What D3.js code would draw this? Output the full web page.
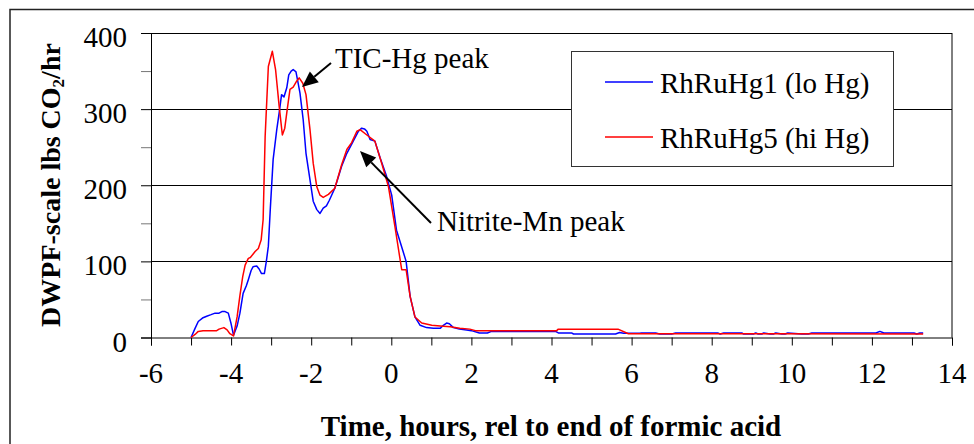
<!DOCTYPE html>
<html>
<head>
<meta charset="utf-8">
<script src="https://cdn.jsdelivr.net/npm/d3@7"></script>
<style>
  body { margin: 0; background: #fff; }
  text { font-family: "Liberation Serif", "Times New Roman", serif; fill: #000; }
</style>
</head>
<body>
<svg id="chart" width="974" height="444"></svg>
<script>
'use strict'

// RhRuHg1 (lo Hg): [hours rel to end of formic acid, lbs CO2/hr]
var loHg = [
  [-5.0, 0], [-4.9, 12], [-4.82, 21], [-4.7, 26], [-4.61, 28], [-4.5, 30], [-4.4, 32],
  [-4.3, 32], [-4.23, 34], [-4.15, 34], [-4.07, 32], [-4.0, 18], [-3.94, 3], [-3.85, 15],
  [-3.78, 32], [-3.7, 58], [-3.62, 68], [-3.57, 76], [-3.5, 88], [-3.45, 93], [-3.36, 94],
  [-3.3, 90], [-3.24, 84], [-3.17, 84], [-3.12, 100], [-3.07, 120], [-3.02, 170], [-2.95, 234],
  [-2.86, 273], [-2.8, 295], [-2.74, 319], [-2.68, 316], [-2.61, 328], [-2.56, 345], [-2.5, 350],
  [-2.45, 352], [-2.38, 349], [-2.33, 335], [-2.28, 321], [-2.2, 286], [-2.13, 242], [-2.03, 207],
  [-1.95, 179], [-1.86, 168], [-1.78, 163], [-1.7, 170], [-1.62, 173], [-1.55, 180], [-1.41, 196],
  [-1.24, 225], [-1.11, 242], [-0.95, 258], [-0.82, 271], [-0.74, 275], [-0.67, 274], [-0.61, 271],
  [-0.53, 260], [-0.41, 258], [-0.28, 236], [-0.12, 212], [0.01, 187], [0.13, 141], [0.26, 119],
  [0.37, 100], [0.47, 54], [0.59, 27], [0.72, 16], [0.88, 13], [1.05, 12], [1.22, 12], [1.3, 16],
  [1.38, 19], [1.45, 18], [1.55, 13], [1.7, 11], [1.88, 10], [2.0, 9], [2.2, 6], [2.4, 6],
  [2.5, 8], [4.1, 8], [4.17, 6], [4.5, 6], [4.55, 4.6], [5.6, 4.6], [5.7, 6.5], [5.8, 5.5],
  [6.2, 5.5], [6.25, 6], [6.6, 6], [6.7, 4.6], [7.0, 4.6], [7.1, 6], [8.15, 6], [8.21, 4.6],
  [8.3, 6], [8.75, 6], [8.79, 4.6], [9.04, 4.6], [9.1, 6], [9.16, 4.6], [9.25, 4.6], [9.3, 6],
  [9.46, 4.6], [9.54, 4.6], [9.6, 6], [9.75, 4.6], [9.83, 4.6], [9.9, 6], [10.25, 4.6],
  [10.41, 4.6], [10.5, 6], [12.1, 6], [12.2, 8], [12.3, 6], [13.05, 6], [13.12, 4.6], [13.2, 6],
  [13.28, 6]
]

// RhRuHg5 (hi Hg)
var hiHg = [
  [-5.0, 0], [-4.9, 4], [-4.82, 8], [-4.7, 9], [-4.36, 9], [-4.3, 11], [-4.18, 13], [-4.1, 10],
  [-4.03, 5], [-3.94, 2], [-3.85, 27], [-3.78, 55], [-3.71, 80], [-3.65, 95], [-3.57, 104],
  [-3.52, 105], [-3.4, 113], [-3.32, 117], [-3.25, 128], [-3.2, 155], [-3.15, 264], [-3.07, 356],
  [-2.97, 376], [-2.89, 352], [-2.8, 304], [-2.72, 266], [-2.66, 275], [-2.6, 299], [-2.53, 326],
  [-2.45, 329], [-2.36, 337], [-2.3, 341], [-2.21, 334], [-2.13, 319], [-2.03, 273], [-1.95, 229],
  [-1.86, 198], [-1.78, 187], [-1.7, 184], [-1.57, 188], [-1.41, 196], [-1.24, 227], [-1.11, 247],
  [-0.99, 256], [-0.86, 271], [-0.78, 273], [-0.61, 266], [-0.41, 258], [-0.24, 229], [-0.07, 198],
  [0.09, 146], [0.26, 89], [0.37, 89], [0.47, 54], [0.59, 27], [0.76, 19], [1.01, 16], [1.22, 15],
  [1.47, 14], [1.71, 12], [1.96, 11], [2.1, 9], [4.13, 9], [4.17, 11], [5.66, 11], [5.92, 5],
  [13.28, 4.5]
]

var xTicks = d3.range(-6, 15, 1)
  , xLabels = d3.range(-6, 15, 2)
  , yTicks = d3.range(0, 401, 50)
  , yLabels = [0, 100, 200, 300, 400]
  , series = [
      { name: 'RhRuHg1 (lo Hg)', color: '#0000ff', data: loHg },
      { name: 'RhRuHg5 (hi Hg)', color: '#ff0000', data: hiHg }
    ]

var svg = d3.select('#chart')
  , x = d3.scaleLinear().domain([-6, 14]).range([151, 952])
  , y = d3.scaleLinear().domain([0, 400]).range([337.5, 33])
  , fs = '29px'

// outer frame
svg.append('rect').attr('x', 10).attr('y', 9.5).attr('width', 990).attr('height', 460)
  .attr('fill', 'none').attr('stroke', '#222').attr('stroke-width', 1.5)

// gridlines
svg.append('g').selectAll('line').data([100, 200, 300, 400]).enter().append('line')
  .attr('x1', x(-6)).attr('x2', x(14))
  .attr('y1', function(d){ return Math.round(y(d)) + 0.5 })
  .attr('y2', function(d){ return Math.round(y(d)) + 0.5 })
  .attr('stroke', '#000').attr('stroke-width', 1)

// right border
svg.append('line').attr('x1', x(14)).attr('x2', x(14)).attr('y1', y(400)).attr('y2', y(0))
  .attr('stroke', '#000').attr('stroke-width', 1)

// y axis
var yAxis = svg.append('g').attr('transform', 'translate(' + x(-6) + ',0)')
  .call(d3.axisLeft(y).tickValues(yTicks).tickSize(10).tickFormat(''))
yAxis.select('.domain').attr('stroke', '#000')
yAxis.selectAll('.tick line').attr('stroke', function(d){ return d % 100 ? '#777' : '#000' })

svg.append('g').selectAll('text').data(yLabels).enter().append('text')
  .attr('x', 127).attr('y', function(d){ return y(d) + 14 })
  .attr('text-anchor', 'end').style('font-size', fs)
  .text(function(d){ return d })

// x axis
var xAxis = svg.append('g').attr('transform', 'translate(0,' + y(0) + ')')
  .call(d3.axisBottom(x).tickValues(xTicks).tickSize(8).tickFormat(''))
xAxis.select('.domain').attr('stroke', '#000')
xAxis.selectAll('.tick line').attr('stroke', '#000')

svg.append('g').selectAll('text').data(xLabels).enter().append('text')
  .attr('x', function(d){ return x(d) }).attr('y', 383)
  .attr('text-anchor', 'middle').style('font-size', fs)
  .text(function(d){ return d })

// axis titles
svg.append('text').attr('x', 551).attr('y', 436).attr('text-anchor', 'middle')
  .style('font-size', fs).style('font-weight', 'bold')
  .text('Time, hours, rel to end of formic acid')

var yt = svg.append('text').attr('transform', 'translate(60,185) rotate(-90)')
  .attr('text-anchor', 'middle').style('font-size', '28px').style('font-weight', 'bold')
yt.append('tspan').text('DWPF-scale lbs CO')
yt.append('tspan').attr('dy', 4).style('font-size', '17px').text('2')
yt.append('tspan').attr('dy', -4).text('/hr')

// series
var line = d3.line().x(function(d){ return x(d[0]) }).y(function(d){ return y(d[1]) })
svg.append('g').selectAll('path').data(series).enter().append('path')
  .attr('d', function(d){ return line(d.data) })
  .attr('fill', 'none').attr('stroke', function(d){ return d.color })
  .attr('stroke-width', 1.5).attr('stroke-linejoin', 'round')

// legend
var lg = svg.append('g')
lg.append('rect').attr('x', 571.5).attr('y', 51.5).attr('width', 322).attr('height', 115)
  .attr('fill', '#fff').attr('stroke', '#333').attr('stroke-width', 1)
var li = lg.selectAll('g.item').data(series).enter().append('g').attr('class', 'item')
  .attr('transform', function(d, i){ return 'translate(0,' + (i * 55) + ')' })
li.append('line').attr('x1', 605).attr('x2', 653).attr('y1', 82).attr('y2', 82)
  .attr('stroke', function(d){ return d.color }).attr('stroke-width', 1.5)
li.append('text').attr('x', 660).attr('y', 93).style('font-size', fs)
  .text(function(d){ return d.name })

// annotations
function arrow(x1, y1, x2, y2){
  var a = Math.atan2(y2 - y1, x2 - x1), L = 16, W = 7
    , bx = x2 - L * Math.cos(a), by = y2 - L * Math.sin(a)
  svg.append('line').attr('x1', x1).attr('y1', y1).attr('x2', bx).attr('y2', by)
    .attr('stroke', '#000').attr('stroke-width', 2)
  svg.append('path').attr('fill', '#000').attr('d', 'M' + x2 + ',' + y2
    + 'L' + (bx + W * Math.sin(a)) + ',' + (by - W * Math.cos(a))
    + 'L' + (bx - W * Math.sin(a)) + ',' + (by + W * Math.cos(a)) + 'Z')
}
arrow(331, 63, 302, 87)
svg.append('text').attr('x', 335).attr('y', 68).style('font-size', fs).text('TIC-Hg peak')
arrow(431, 223, 360, 151)
svg.append('text').attr('x', 437).attr('y', 231).style('font-size', fs).text('Nitrite-Mn peak')
</script>
</body>
</html>
